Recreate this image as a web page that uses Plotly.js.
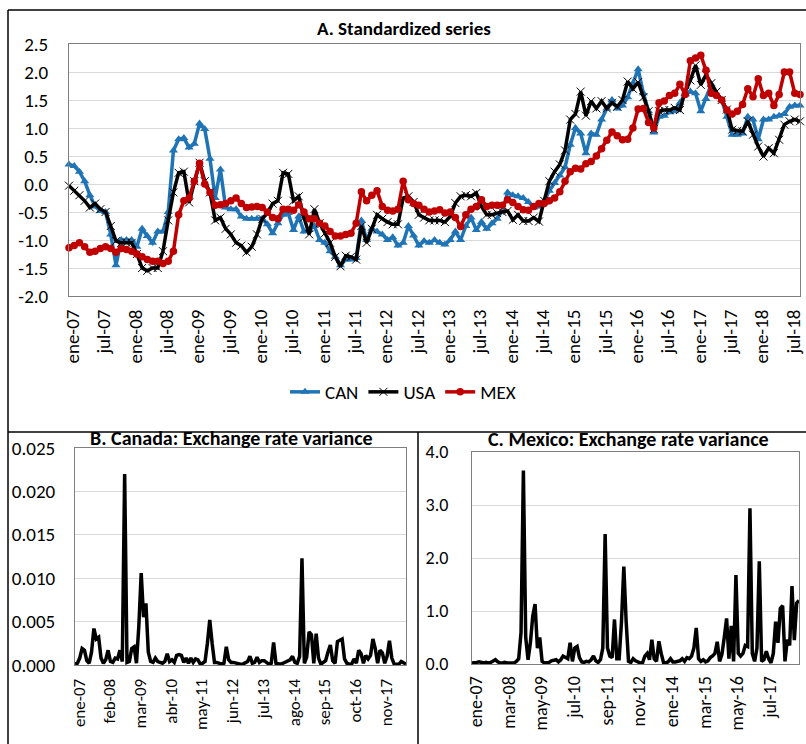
<!DOCTYPE html>
<html><head><meta charset="utf-8">
<script src="https://cdn.plot.ly/plotly-3.0.1.min.js"></script>
<style>html,body{margin:0;padding:0;background:#fff;} #chart{width:806px;height:744px;}</style>
</head><body><div id="chart"></div>
<script>
// Month categories (Spanish abbreviations), ene-07 .. sep-18
const monthNames = ['ene','feb','mar','abr','may','jun','jul','ago','sep','oct','nov','dic'];
const months = [];
for (let k = 0; k < 141; k++) {
  const yy = 7 + Math.floor(k / 12);
  months.push(monthNames[k % 12] + '-' + String(yy).padStart(2, '0'));
}

// Panel A: standardized series
const can = [
  0.35, 0.32, 0.22, 0.05, -0.2, -0.4, -0.48, -0.5, -0.9, -1.45,
  -1.0, -1.0, -1.0, -1.12, -0.8, -0.93, -1.05, -0.85, -0.85, -0.5,
  0.6, 0.8, 0.82, 0.65, 0.72, 1.08, 0.98, 0.45, -0.25, 0.26,
  -0.42, -0.45, -0.45, -0.58, -0.62, -0.62, -0.62, -0.62, -0.72, -0.88,
  -0.7, -0.55, -0.52, -0.82, -0.58, -0.85, -0.82, -0.75, -1.0, -1.05,
  -1.2, -1.3, -1.45, -1.35, -1.35, -1.32, -0.65, -1.0, -0.8, -0.85,
  -0.9, -1.0, -0.95, -1.1, -1.05, -0.75, -0.92, -1.1, -1.02, -1.05,
  -1.0, -1.05, -1.08, -1.0, -0.85, -1.0, -0.75, -0.6, -0.82, -0.68,
  -0.8, -0.7, -0.62, -0.48, -0.15, -0.2, -0.22, -0.25, -0.32, -0.42,
  -0.4, -0.3, -0.12, 0.02, 0.15, 0.3, 0.7, 1.0, 0.9, 0.55,
  0.9, 0.88, 1.15, 1.35, 1.5, 1.35, 1.4, 1.55, 1.8, 2.05,
  1.62, 1.3, 0.92, 1.2, 1.22, 1.28, 1.3, 1.45, 1.6, 1.65,
  1.62, 1.3, 1.52, 1.78, 1.6, 1.5, 1.2, 0.88, 0.88, 0.9,
  1.2, 1.15, 0.8, 1.15, 1.15, 1.2, 1.22, 1.25, 1.38, 1.4, 1.4
];
const usa = [
  -0.03, -0.12, -0.2, -0.3, -0.42, -0.35, -0.45, -0.5, -0.75, -1.02,
  -1.05, -1.05, -1.05, -1.25, -1.5, -1.55, -1.5, -1.5, -1.2, -0.65,
  -0.15, 0.2, 0.22, -0.33, 0.05, 0.38, 0.05, -0.15, -0.65, -0.6,
  -0.8, -0.9, -1.05, -1.1, -1.22, -1.12, -0.9, -0.62, -0.52, -0.35,
  -0.3, 0.2, 0.18, -0.3, -0.22, -0.6, -0.9, -0.45, -0.7, -0.88,
  -1.05, -1.3, -1.47, -1.28, -1.3, -1.35, -0.75, -1.05, -0.8, -0.55,
  -0.62, -0.68, -0.72, -0.72, -0.25, -0.22, -0.32, -0.55, -0.6, -0.65,
  -0.65, -0.65, -0.68, -0.58, -0.34, -0.22, -0.2, -0.22, -0.16, -0.4,
  -0.55, -0.55, -0.52, -0.5, -0.48, -0.64, -0.55, -0.66, -0.66, -0.6,
  -0.67, -0.3, 0.05, 0.22, 0.35, 0.6, 1.15, 1.25, 1.65, 1.22,
  1.48, 1.35, 1.48, 1.35, 1.45, 1.38, 1.5, 1.83, 1.7, 1.82,
  1.55, 1.3, 0.98, 1.3, 1.32, 1.32, 1.36, 1.32, 1.65, 1.85,
  2.12, 1.77, 1.95, 1.8, 1.65, 1.5, 1.33, 0.97, 0.95, 0.94,
  1.12, 0.88, 0.67, 0.49, 0.64, 0.55, 0.79, 1.06, 1.12, 1.15, 1.12
];
const mex = [
  -1.14, -1.1, -1.05, -1.12, -1.22, -1.2, -1.15, -1.12, -1.15, -1.22,
  -1.15, -1.17, -1.2, -1.25, -1.3, -1.35, -1.38, -1.38, -1.42, -1.38,
  -1.2, -0.55, -0.3, -0.25, 0.05, 0.37, 0.0, -0.15, -0.38, -0.37,
  -0.35, -0.3, -0.25, -0.35, -0.42, -0.41, -0.4, -0.42, -0.5, -0.6,
  -0.62, -0.45, -0.45, -0.47, -0.37, -0.5, -0.62, -0.62, -0.7, -0.75,
  -0.85, -0.93, -0.93, -0.9, -0.88, -0.7, -0.14, -0.3, -0.2, -0.12,
  -0.4, -0.47, -0.48, -0.45, 0.05, -0.28, -0.35, -0.38, -0.45, -0.5,
  -0.48, -0.46, -0.52, -0.5, -0.6, -0.76, -0.55, -0.45, -0.4, -0.28,
  -0.4, -0.38, -0.38, -0.38, -0.28, -0.33, -0.4, -0.46, -0.47, -0.4,
  -0.35, -0.35, -0.3, -0.25, -0.14, 0.05, 0.22, 0.28, 0.27, 0.36,
  0.4, 0.5, 0.63, 0.78, 0.93, 0.86, 0.79, 0.8, 1.0, 1.34,
  1.35, 1.1, 1.0, 1.45, 1.48, 1.58, 1.62, 1.78, 1.6, 2.2,
  2.25, 2.3, 2.03, 1.62, 1.58, 1.5, 1.32, 1.25, 1.3, 1.42,
  1.7, 1.56, 1.88, 1.58, 1.62, 1.4, 1.6, 2.0, 2.0, 1.62, 1.6
];

// Panel B: Canada exchange rate variance
const canVar = [
  0.0001, 0.0002, 0.0008, 0.0019, 0.0017, 0.0005, 0.0002, 0.0015, 0.0042, 0.003,
  0.0032, 0.0008, 0.0002, 0.0006, 0.0017, 0.0004, 0.0003, 0.0008, 0.0007, 0.0017,
  0.0004, 0.022, 0.0003, 0.0004, 0.0019, 0.0021, 0.0002, 0.0045, 0.0106, 0.0055,
  0.0071, 0.0015, 0.0004, 0.0003, 0.0008, 0.0004, 0.0003, 0.0002, 0.0004, 0.0013,
  0.0004, 0.0006, 0.0003, 0.0011, 0.0012, 0.0011, 0.0003, 0.0008, 0.0002, 0.0008,
  0.0003, 0.0007, 0.0006, 0.0001, 0.0002, 0.0004, 0.0025, 0.0052, 0.0025, 0.0003,
  0.0003, 0.0002, 0.0001, 0.0002, 0.0021, 0.0006, 0.0003, 0.0003, 0.0002, 0.0001,
  0.0001, 0.0001, 0.0002, 0.0004, 0.001, 0.0002, 0.0003, 0.0009, 0.0003, 0.0005,
  0.0005, 0.0003, 0.0001, 0.0002, 0.0026, 0.0002, 0.0001, 0.0001, 0.0002, 0.0003,
  0.0004, 0.0006, 0.001, 0.0003, 0.0002, 0.001, 0.0123, 0.0002, 0.0009, 0.0038,
  0.0035, 0.0002, 0.0036, 0.0008, 0.0001, 0.0003, 0.0005, 0.0015, 0.0023, 0.0005,
  0.0002, 0.0027, 0.0028, 0.003, 0.0007, 0.0002, 0.0001, 0.0001, 0.0007, 0.0002,
  0.0017, 0.0013, 0.0002, 0.0011, 0.0007, 0.0011, 0.003, 0.0019, 0.0002, 0.0017,
  0.0014, 0.0002, 0.001, 0.0028, 0.0008, 0.0001, 0.0001, 0.0001, 0.0004, 0.0003, 0.0001
];

// Panel C: Mexico exchange rate variance
const mexVar = [
  0.02, 0.02, 0.03, 0.04, 0.03, 0.02, 0.03, 0.02, 0.03, 0.06,
  0.08, 0.04, 0.02, 0.02, 0.03, 0.02, 0.02, 0.03, 0.02, 0.05,
  0.1, 0.6, 3.65, 0.5, 0.08, 0.4, 0.9, 1.13, 0.3, 0.5,
  0.05, 0.02, 0.03, 0.03, 0.06, 0.07, 0.08, 0.04, 0.08, 0.15,
  0.12, 0.1, 0.4, 0.05, 0.3, 0.33, 0.12, 0.04, 0.03, 0.05,
  0.04, 0.08, 0.15, 0.06, 0.03, 0.08, 0.3, 2.45, 0.3, 0.15,
  0.12, 0.84, 0.1, 0.1, 0.8, 1.84, 0.8, 0.05, 0.03, 0.1,
  0.06, 0.03, 0.02, 0.02, 0.15, 0.2, 0.08, 0.46, 0.1, 0.05,
  0.43, 0.2, 0.03, 0.02, 0.04, 0.1, 0.04, 0.04, 0.05, 0.06,
  0.1, 0.05, 0.12, 0.1, 0.15, 0.3, 0.68, 0.1, 0.05, 0.08,
  0.04, 0.06, 0.12, 0.15, 0.2, 0.42, 0.05, 0.18, 0.5, 0.86,
  0.1, 0.72, 0.05, 1.68, 0.2, 0.15, 0.2, 0.35, 0.33, 2.94,
  0.2, 0.05, 0.3, 1.94, 0.05, 0.08, 0.24, 0.1, 0.02, 0.2,
  0.8, 0.4, 1.05, 1.1, 0.05, 0.46, 0.35, 1.47, 0.45, 1.15, 1.2
];

// Tick labels
const ticksA = ['ene-07','jul-07','ene-08','jul-08','ene-09','jul-09','ene-10','jul-10','ene-11','jul-11','ene-12','jul-12',
  'ene-13','jul-13','ene-14','jul-14','ene-15','jul-15','ene-16','jul-16','ene-17','jul-17','ene-18','jul-18'];
const ticksB = ['ene-07','feb-08','mar-09','abr-10','may-11','jun-12','jul-13','ago-14','sep-15','oct-16','nov-17'];
const ticksC = ['ene-07','mar-08','may-09','jul-10','sep-11','nov-12','ene-14','mar-15','may-16','jul-17'];
const yValsA = [-2, -1.5, -1, -0.5, 0, 0.5, 1, 1.5, 2, 2.5];
const yTextA = ['-2.0','-1.5','-1.0','-0.5','0.0','0.5','1.0','1.5','2.0','2.5'];
const yValsB = [0, 0.005, 0.01, 0.015, 0.02, 0.025];
const yTextB = ['0.000','0.005','0.010','0.015','0.020','0.025'];
const yValsC = [0, 1, 2, 3, 4];
const yTextC = ['0.0','1.0','2.0','3.0','4.0'];

const W = 806, H = 744;
const px = x => x / W;
const py = y => 1 - y / H;
const FONT = 'Carlito, Lato, "Open Sans", sans-serif';
const BLUE = '#1F74B6', RED = '#C00000';
const last = months.length - 1;

const traces = [
  {x: months, y: can, type: 'scatter', mode: 'lines+markers', name: 'CAN', xaxis: 'x', yaxis: 'y', cliponaxis: false,
   line: {color: BLUE, width: 3.5}, marker: {symbol: 'triangle-up', size: 8, color: BLUE}},
  {x: months, y: usa, type: 'scatter', mode: 'lines+markers', name: 'USA', xaxis: 'x', yaxis: 'y', cliponaxis: false,
   line: {color: '#000', width: 3.5}, marker: {symbol: 'x-thin', size: 8, color: '#000', line: {color: '#000', width: 1}}},
  {x: months, y: mex, type: 'scatter', mode: 'lines+markers', name: 'MEX', xaxis: 'x', yaxis: 'y', cliponaxis: false,
   line: {color: RED, width: 3.5}, marker: {symbol: 'circle', size: 7.5, color: RED}},
  {x: months, y: canVar, type: 'scatter', mode: 'lines', showlegend: false, xaxis: 'x2', yaxis: 'y2',
   line: {color: '#000', width: 3.5}},
  {x: months, y: mexVar, type: 'scatter', mode: 'lines', showlegend: false, xaxis: 'x3', yaxis: 'y3',
   line: {color: '#000', width: 3.5}}
];

const frame = {showline: true, mirror: true, linecolor: '#7F7F7F', linewidth: 1, zeroline: false};

const layout = {
  width: W, height: H,
  margin: {l: 0, r: 0, t: 0, b: 0},
  paper_bgcolor: '#fff', plot_bgcolor: '#fff',
  font: {family: FONT, color: '#000'},
  showlegend: true,
  legend: {orientation: 'h', x: 0.5, xanchor: 'center', y: py(392), yanchor: 'middle',
           font: {size: 19, family: FONT}, bgcolor: 'rgba(0,0,0,0)', itemwidth: 30, traceorder: 'normal'},
  xaxis: Object.assign({domain: [px(69), px(800)], anchor: 'y', type: 'category', range: [0, last],
    tickmode: 'array', tickvals: ticksA, ticktext: ticksA, tickangle: -90, tickfont: {size: 19},
    showgrid: false, ticks: '', ticklabelstandoff: 5, ticklabelshift: 4}, frame),
  yaxis: Object.assign({domain: [py(296), py(44)], anchor: 'x', range: [-2, 2.5],
    tickmode: 'array', tickvals: yValsA, ticktext: yTextA, tickfont: {size: 19},
    showgrid: true, gridcolor: '#D9D9D9', gridwidth: 1, ticks: '', ticklabelstandoff: 16}, frame),
  xaxis2: Object.assign({domain: [px(75), px(406)], anchor: 'y2', type: 'category', range: [0, last],
    tickmode: 'array', tickvals: ticksB, ticktext: ticksB, tickangle: -90, tickfont: {size: 17},
    showgrid: false, ticks: '', ticklabelstandoff: 6, ticklabelshift: 4}, frame),
  yaxis2: Object.assign({domain: [py(665), py(448)], anchor: 'x2', range: [0, 0.025],
    tickmode: 'array', tickvals: yValsB, ticktext: yTextB, tickfont: {size: 19},
    showgrid: true, gridcolor: '#D9D9D9', gridwidth: 1, ticks: '', ticklabelstandoff: 15}, frame),
  xaxis3: Object.assign({domain: [px(472), px(799)], anchor: 'y3', type: 'category', range: [0, last],
    tickmode: 'array', tickvals: ticksC, ticktext: ticksC, tickangle: -90, tickfont: {size: 18},
    showgrid: false, ticks: '', ticklabelstandoff: 4, ticklabelshift: 4}, frame),
  yaxis3: Object.assign({domain: [py(664), py(452)], anchor: 'x3', range: [0, 4],
    tickmode: 'array', tickvals: yValsC, ticktext: yTextC, tickfont: {size: 18},
    showgrid: true, gridcolor: '#D9D9D9', gridwidth: 1, ticks: '', ticklabelstandoff: 19}, frame),
  annotations: [
    {text: '<b>A. Standardized series</b>', x: px(404), y: py(29), xref: 'paper', yref: 'paper',
     showarrow: false, xanchor: 'center', yanchor: 'middle', font: {size: 19, family: FONT}},
    {text: '<b>B. Canada: Exchange rate variance</b>', x: px(231), y: py(438), xref: 'paper', yref: 'paper',
     showarrow: false, xanchor: 'center', yanchor: 'middle', font: {size: 20, family: FONT}},
    {text: '<b>C. Mexico: Exchange rate variance</b>', x: px(628), y: py(439), xref: 'paper', yref: 'paper',
     showarrow: false, xanchor: 'center', yanchor: 'middle', font: {size: 20, family: FONT}}
  ],
  shapes: [
    {type: 'line', xref: 'paper', yref: 'paper', x0: px(8), x1: 1, y0: py(10), y1: py(10), line: {color: '#000', width: 1.5}},
    {type: 'line', xref: 'paper', yref: 'paper', x0: px(8), x1: px(8), y0: py(10), y1: 0, line: {color: '#000', width: 1.5}},
    {type: 'line', xref: 'paper', yref: 'paper', x0: px(8), x1: 1, y0: py(432), y1: py(432), line: {color: '#000', width: 1.5}},
    {type: 'line', xref: 'paper', yref: 'paper', x0: px(418), x1: px(418), y0: py(432), y1: 0, line: {color: '#000', width: 1.5}}
  ]
};

Plotly.newPlot('chart', traces, layout, {displayModeBar: false, staticPlot: true});
</script>
</body></html>
